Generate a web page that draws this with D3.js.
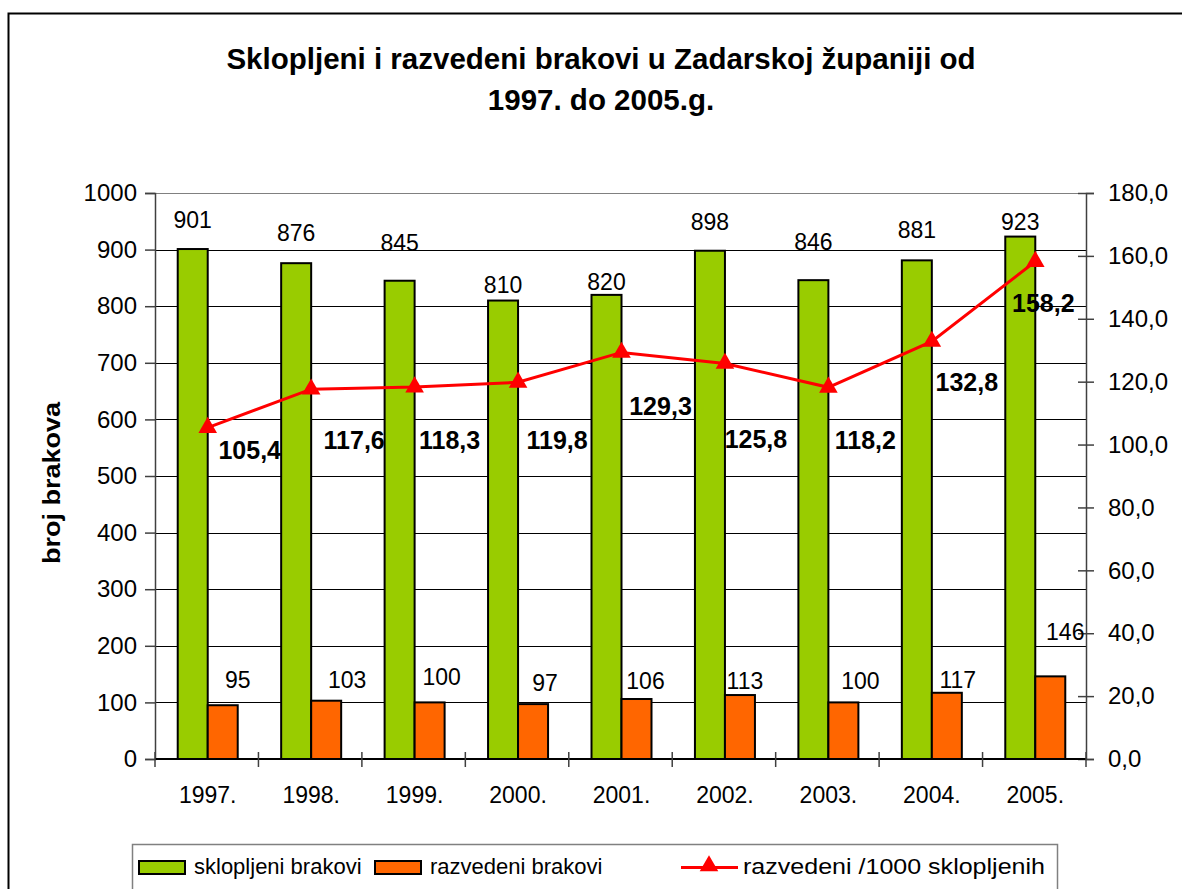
<!DOCTYPE html>
<html>
<head>
<meta charset="utf-8">
<script src="https://cdn.jsdelivr.net/npm/d3@7"></script>
<style>
  body { margin: 0; background: #fff; }
  svg { display: block; font-family: "Liberation Sans", Arial, sans-serif; }
</style>
</head>
<body>
<div id="chart"></div>
<script>
// data
const years = ['1997.', '1998.', '1999.', '2000.', '2001.', '2002.', '2003.', '2004.', '2005.'];
const sklopljeni = [901, 876, 845, 810, 820, 898, 846, 881, 923];
const razvedeni = [95, 103, 100, 97, 106, 113, 100, 117, 146];
const naTisucu = [105.4, 117.6, 118.3, 119.8, 129.3, 125.8, 118.2, 132.8, 158.2];
const leftTicks = [0, 100, 200, 300, 400, 500, 600, 700, 800, 900, 1000];
const rightTicks = [0, 20, 40, 60, 80, 100, 120, 140, 160, 180];

// label nudges (hand placed in the original)
const greenLabelNudge = [-29, -30, -38, -16, -13, -29, -38, -30, -15];
const orangeLabelNudge = [[15, -25], [21, -21], [12, -25], [12, -21], [9, -18], [5, -14], [17, -21], [11, -13], [15, -44]];
const lineLabelNudge = [[42, 22], [43, 51], [35, 53], [39, 58], [39, 54], [31, 76], [37, 53], [35, 41], [8, 41]];

const W = 1182, H = 889;
const m = {left: 155, right: 1086, top: 193, bottom: 759};
const colors = {green: '#99cc00', orange: '#ff6600', red: '#ff0000'};
const font = '"Liberation Sans", Arial, sans-serif';

const svg = d3.select('#chart').append('svg').attr('width', W).attr('height', H);

// outer frame
svg.append('rect')
  .attr('x', 8.5).attr('y', 13.5)
  .attr('width', W + 20).attr('height', H + 20)
  .style('fill', 'none').style('stroke', '#000').style('stroke-width', 2);

// title
const title = svg.append('text')
  .attr('text-anchor', 'middle')
  .style('font-size', '29.5px').style('font-weight', 'bold');
title.append('tspan').attr('x', 601).attr('y', 69).text('Sklopljeni i razvedeni brakovi u Zadarskoj županiji od');
title.append('tspan').attr('x', 601).attr('y', 110).text('1997. do 2005.g.');

// scales
const x = d3.scaleBand().domain(years).range([m.left, m.right]);
const inner = d3.scaleBand().domain(['s', 'r']).range([0, 60]);
const yL = d3.scaleLinear().domain([0, 1000]).range([m.bottom, m.top]);
const yR = d3.scaleLinear().domain([0, 180]).range([m.bottom, m.top]);
const groupStart = d => x(d) + (x.bandwidth() - 60) / 2 + 1;
const center = d => groupStart(d) + 30;

// gridlines
svg.append('g').selectAll('line')
  .data(leftTicks.filter(t => t > 0))
  .enter().append('line')
  .attr('x1', m.left).attr('x2', m.right)
  .attr('y1', d => Math.round(yL(d)) + 0.5).attr('y2', d => Math.round(yL(d)) + 0.5)
  .style('stroke', d => d === 1000 ? '#808080' : '#000')
  .style('stroke-width', 1);

// left axis
const axL = svg.append('g')
  .attr('transform', 'translate(' + [m.left, 0] + ')')
  .call(d3.axisLeft(yL).tickValues(leftTicks).tickSize(10).tickPadding(8).tickFormat(d3.format('d')));
axL.select('.domain').style('stroke', '#404040').style('stroke-width', 1.5);
axL.selectAll('.tick line').style('stroke', '#404040').style('stroke-width', 1.5);
axL.selectAll('text').style('font-size', '24px').style('font-family', font).attr('fill', '#000');

// right axis
const axR = svg.append('g')
  .attr('transform', 'translate(' + [m.right, 0] + ')')
  .call(d3.axisRight(yR).tickValues(rightTicks).tickSize(8).tickPadding(14)
    .tickFormat(d => d3.format('.1f')(d).replace('.', ',')));
axR.select('.domain').style('stroke', '#404040').style('stroke-width', 1.5);
axR.selectAll('.tick line').attr('x1', -8).style('stroke', '#404040').style('stroke-width', 1.5);
axR.selectAll('text').style('font-size', '24px').style('font-family', font).attr('fill', '#000');

// bars
const groups = svg.append('g').selectAll('g')
  .data(years).enter().append('g');

groups.append('rect')
  .attr('x', d => groupStart(d) + inner('s'))
  .attr('y', (d, i) => yL(sklopljeni[i]))
  .attr('width', inner.bandwidth())
  .attr('height', (d, i) => yL(0) - yL(sklopljeni[i]))
  .style('fill', colors.green).style('stroke', '#000').style('stroke-width', 2);

groups.append('rect')
  .attr('x', d => groupStart(d) + inner('r'))
  .attr('y', (d, i) => yL(razvedeni[i]))
  .attr('width', inner.bandwidth())
  .attr('height', (d, i) => yL(0) - yL(razvedeni[i]))
  .style('fill', colors.orange).style('stroke', '#000').style('stroke-width', 2);

// x axis
const axX = svg.append('g')
  .attr('transform', 'translate(' + [0, m.bottom] + ')')
  .call(d3.axisBottom(x).tickSize(0).tickPadding(28));
axX.select('.domain').remove();
axX.selectAll('text').style('font-size', '23px').style('font-family', font).attr('fill', '#000')
  .attr('dx', 1);
svg.append('line')
  .attr('x1', m.left).attr('x2', m.right).attr('y1', m.bottom).attr('y2', m.bottom)
  .style('stroke', '#000').style('stroke-width', 2);
svg.append('g').selectAll('line')
  .data(d3.range(years.length + 1))
  .enter().append('line')
  .attr('x1', i => m.left + i * x.bandwidth()).attr('x2', i => m.left + i * x.bandwidth())
  .attr('y1', m.bottom - 7).attr('y2', m.bottom + 8)
  .style('stroke', '#404040').style('stroke-width', 1.5);

// value labels
groups.append('text')
  .attr('x', d => groupStart(d) + inner('s') + inner.bandwidth() / 2)
  .attr('y', (d, i) => yL(sklopljeni[i]) + greenLabelNudge[i] + 8)
  .attr('text-anchor', 'middle')
  .style('font-size', '23px')
  .text((d, i) => sklopljeni[i]);

groups.append('text')
  .attr('x', (d, i) => groupStart(d) + inner('r') + inner.bandwidth() / 2 + orangeLabelNudge[i][0])
  .attr('y', (d, i) => yL(razvedeni[i]) + orangeLabelNudge[i][1] + 8)
  .attr('text-anchor', 'middle')
  .style('font-size', '23px')
  .text((d, i) => razvedeni[i]);

// line
const line = d3.line()
  .x((d, i) => center(years[i]))
  .y(d => yR(d));
svg.append('path')
  .datum(naTisucu)
  .attr('d', line)
  .style('fill', 'none').style('stroke', colors.red).style('stroke-width', 3);

const tri = d3.symbol().type(d3.symbolTriangle).size(150);
svg.append('g').selectAll('path')
  .data(naTisucu).enter().append('path')
  .attr('d', tri)
  .attr('transform', (d, i) => 'translate(' + [center(years[i]), yR(d)] + ')')
  .style('fill', colors.red);

svg.append('g').selectAll('text')
  .data(naTisucu).enter().append('text')
  .attr('x', (d, i) => center(years[i]) + lineLabelNudge[i][0])
  .attr('y', (d, i) => yR(d) + lineLabelNudge[i][1] + 9)
  .attr('text-anchor', 'middle')
  .style('font-size', '25px').style('font-weight', 'bold')
  .text(d => d3.format('.1f')(d).replace('.', ','));

// y axis title
svg.append('text')
  .attr('transform', 'translate(' + [60, 483] + ') rotate(-90)')
  .attr('text-anchor', 'middle')
  .attr('textLength', 162).attr('lengthAdjust', 'spacingAndGlyphs')
  .style('font-size', '24px').style('font-weight', 'bold')
  .text('broj brakova');

// legend
const legend = svg.append('g');
legend.append('rect')
  .attr('x', 132.5).attr('y', 844.5).attr('width', 925).attr('height', 60)
  .style('fill', '#fff').style('stroke', '#808080').style('stroke-width', 1.5);

const legendItems = [
  {label: 'sklopljeni brakovi', type: 'bar', color: colors.green, x: 139},
  {label: 'razvedeni brakovi', type: 'bar', color: colors.orange, x: 375},
  {label: 'razvedeni /1000 sklopljenih', type: 'line', color: colors.red, x: 681}
];
legendItems.forEach(item => {
  if (item.type === 'bar') {
    legend.append('rect')
      .attr('x', item.x).attr('y', 861).attr('width', 46).attr('height', 13)
      .style('fill', item.color).style('stroke', '#000').style('stroke-width', 2);
    legend.append('text')
      .attr('x', item.x + 55).attr('y', 874)
      .style('font-size', '22px').text(item.label);
  } else {
    legend.append('line')
      .attr('x1', item.x).attr('x2', item.x + 57).attr('y1', 867.5).attr('y2', 867.5)
      .style('stroke', item.color).style('stroke-width', 3);
    legend.append('path')
      .attr('d', tri)
      .attr('transform', 'translate(' + [item.x + 28, 866] + ')')
      .style('fill', item.color);
    legend.append('text')
      .attr('x', item.x + 62).attr('y', 874)
      .attr('textLength', 302).attr('lengthAdjust', 'spacingAndGlyphs')
      .style('font-size', '22px').text(item.label);
  }
});
</script>
</body>
</html>
